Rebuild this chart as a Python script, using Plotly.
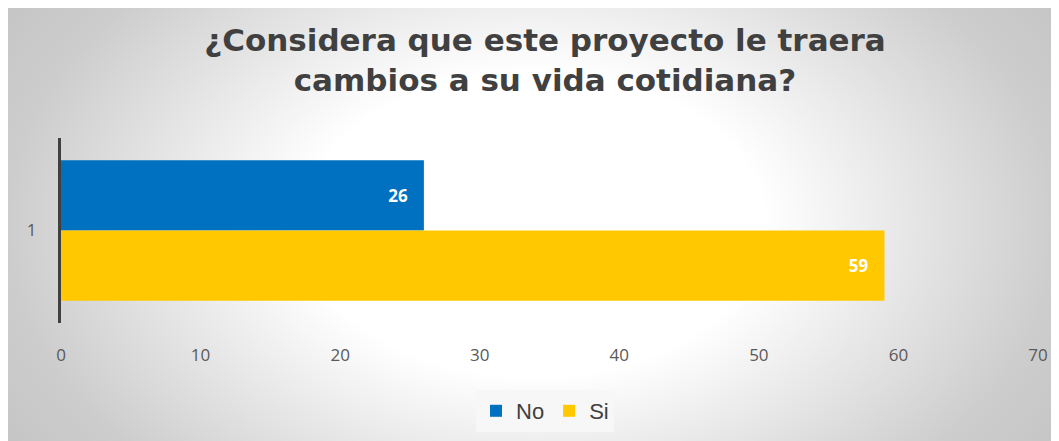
import plotly.graph_objects as go

# ---- data ----
categories = ["1"]
series_names = ["No", "Si"]
no_values = [26]
si_values = [59]
series_colors = ["#0070C0", "#FFC800"]
x_ticks = [0, 10, 20, 30, 40, 50, 60, 70]
title_text = "¿Considera que este proyecto le traera<br>cambios a su vida cotidiana?"

W, H = 1051, 433  # page body adds an 8px margin

fig = go.Figure()

# background radial gradient panel (decoration only)
fig.add_trace(go.Scatter(
    x=[-0.125, 1.125, 1.125, -0.125, -0.125], y=[-0.5, -0.5, 1.5, 1.5, -0.5],
    mode="lines", fill="toself", line=dict(width=0),
    fillgradient=dict(type="radial",
                      colorscale=[[0, "#ffffff"], [0.35, "#ffffff"],
                                  [0.8, "#cdcdcd"], [1, "#c2c2c2"]]),
    hoverinfo="skip", showlegend=False, xaxis="x", yaxis="y"))

for name, vals, col in zip(series_names, [no_values, si_values], series_colors):
    fig.add_trace(go.Bar(
        y=categories, x=vals, name=name, orientation="h",
        marker=dict(color=col, line=dict(width=0)),
        texttemplate="%{x}\u00a0\u00a0\u00a0", textposition="inside", insidetextanchor="end",
        textfont=dict(family="Open Sans, sans-serif", size=17, color="white", weight="bold"),
        hoverinfo="x+name",
        xaxis="x2", yaxis="y2"))

fig.update_layout(
    width=W, height=H,
    margin=dict(l=0, r=0, t=0, b=0, autoexpand=False),
    paper_bgcolor="white", plot_bgcolor="rgba(0,0,0,0)",
    barmode="group", bargap=0.24, bargroupgap=0,
    title=dict(text=title_text, x=537 / W, xanchor="center", y=1 - 43 / H, yanchor="top",
               font=dict(family="DejaVu Sans, sans-serif",
                         size=31, color="#404040", weight="bold")),
    xaxis=dict(domain=[0, 1], range=[0, 1], visible=False, fixedrange=True, automargin=False),
    yaxis=dict(domain=[0, 1], range=[0, 1], visible=False, fixedrange=True, automargin=False),
    xaxis2=dict(domain=[53 / W, 1030 / W], range=[0, 70], tickvals=x_ticks,
                showgrid=False, zeroline=False, showline=False, ticks="",
                ticklabelstandoff=20, anchor="y2", automargin=False,
                tickfont=dict(family="Open Sans, sans-serif", size=17, color="#595959")),
    yaxis2=dict(domain=[1 - 315 / H, 1 - 130 / H], autorange="reversed", type="category",
                showline=True, linecolor="#404040", linewidth=3, showgrid=False,
                ticks="", ticklabelstandoff=18, anchor="x2", automargin=False,
                tickfont=dict(family="Open Sans, sans-serif", size=17, color="#595959")),
    legend=dict(orientation="h", x=537 / W, xanchor="center", y=9 / H, yanchor="bottom",
                bgcolor="#f7f7f7", font=dict(family="Liberation Sans, Arial, sans-serif",
                                             size=22, color="#404040"),
                itemwidth=30, tracegroupgap=0),
)

fig.write_html("out.html")
